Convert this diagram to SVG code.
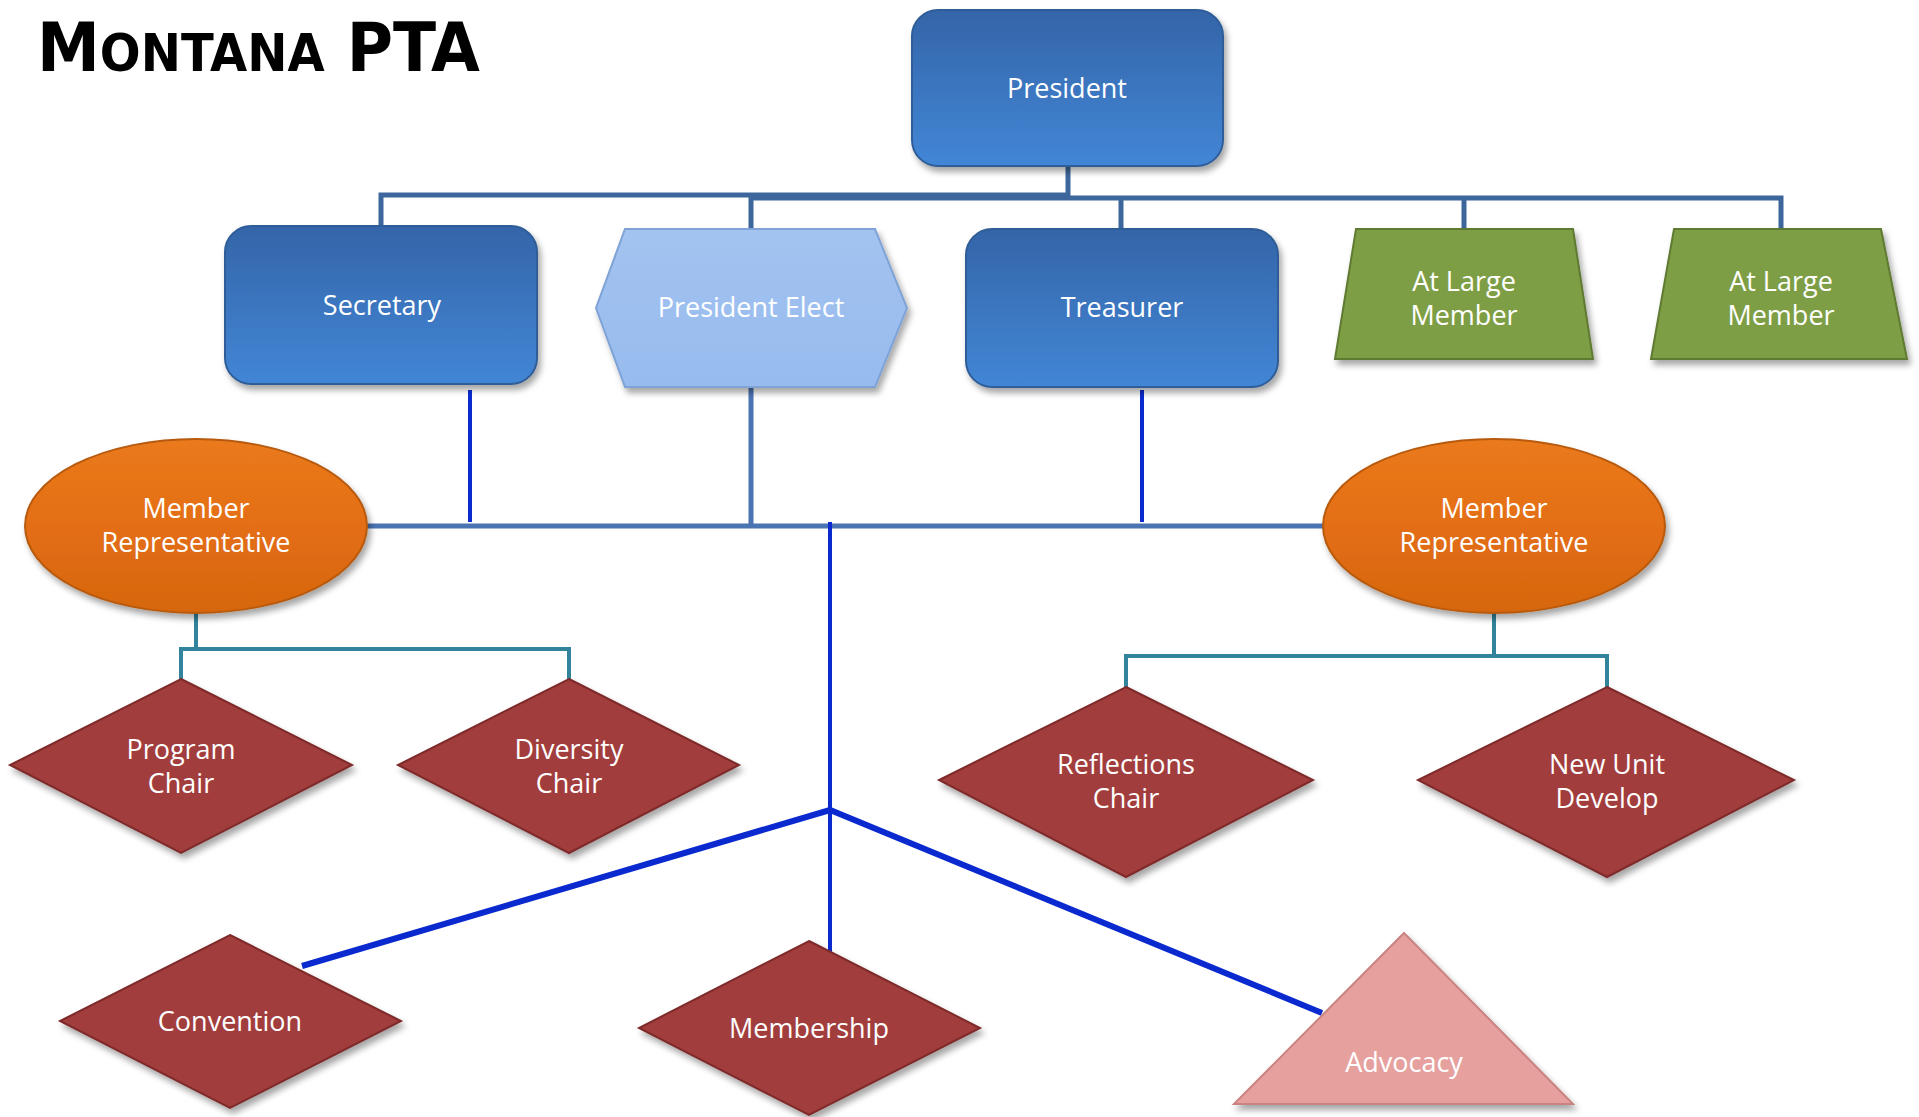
<svg xmlns="http://www.w3.org/2000/svg" width="1919" height="1117" viewBox="0 0 1919 1117">
<defs>
  <filter id="sh" x="-20%" y="-20%" width="140%" height="140%">
    <feDropShadow dx="3" dy="5" stdDeviation="3" flood-color="#000" flood-opacity="0.35"/>
  </filter>
  <linearGradient id="gBlue" x1="0" y1="0" x2="0" y2="1">
    <stop offset="0" stop-color="#3465A8"/>
    <stop offset="1" stop-color="#4286D6"/>
  </linearGradient>
  <linearGradient id="gLight" x1="0" y1="0" x2="0" y2="1">
    <stop offset="0" stop-color="#A3C3F0"/>
    <stop offset="1" stop-color="#97BBEE"/>
  </linearGradient>
  <linearGradient id="gOrange" x1="0" y1="0" x2="0" y2="1">
    <stop offset="0" stop-color="#EA7A1C"/>
    <stop offset="0.5" stop-color="#E46E13"/>
    <stop offset="1" stop-color="#D66610"/>
  </linearGradient>
</defs>
<style>
  .lbl { font-family: "Open Sans", "Liberation Sans", sans-serif; font-size: 27px; fill: #ffffff; text-anchor: middle; }
  .blue { fill: url(#gBlue); stroke: #2F5D97; stroke-width: 2; filter: url(#sh); }
  .light { fill: url(#gLight); stroke: #7FA3D6; stroke-width: 2; filter: url(#sh); }
  .green { fill: #7E9E45; stroke: #5F7A30; stroke-width: 2; filter: url(#sh); }
  .orange { fill: url(#gOrange); stroke: #B85A0E; stroke-width: 2; filter: url(#sh); }
  .red { fill: #A23D3C; stroke: #7E2B2B; stroke-width: 2; filter: url(#sh); }
  .pink { fill: #E6A19F; stroke: #C98381; stroke-width: 2; filter: url(#sh); }
  .c-steel { stroke: #3D679C; stroke-width: 5; fill: none; }
  .c-steel2 { stroke: #4A74B2; stroke-width: 5; fill: none; }
  .c-bright { stroke: #0A2ACF; stroke-width: 4; fill: none; }
  .c-brightw { stroke: #0A2ACF; stroke-width: 6; fill: none; }
  .c-teal { stroke: #31849B; stroke-width: 4; fill: none; }
  .title { font-family: "DejaVu Sans", "Liberation Sans", sans-serif; font-weight: bold; fill: #000; }
</style>
<rect width="1919" height="1117" fill="#ffffff"/>

<text class="title" x="37" y="71" textLength="443" lengthAdjust="spacingAndGlyphs"><tspan font-size="67">M</tspan><tspan font-size="51">ONTANA</tspan><tspan font-size="67"> PTA</tspan></text>

<g id="connectors">
  <polyline class="c-steel" points="1068,166 1068,195 381,195 381,228"/>
  <polyline class="c-steel" points="751,230 751,198 1781,198 1781,230"/>
  <line class="c-steel" x1="1121" y1="198" x2="1121" y2="230"/>
  <line class="c-steel" x1="1464" y1="198" x2="1464" y2="230"/>
  <line class="c-steel2" x1="360" y1="526" x2="1330" y2="526"/>
  <line class="c-steel2" x1="751" y1="387" x2="751" y2="526"/>
  <line class="c-bright" x1="470" y1="390" x2="470" y2="522"/>
  <line class="c-bright" x1="1142" y1="390" x2="1142" y2="522"/>
  <line class="c-bright" x1="830" y1="522" x2="830" y2="953"/>
  <polyline class="c-brightw" points="302,966 830,810 1322,1013"/>
  <polyline class="c-teal" points="196,612 196,649"/>
  <polyline class="c-teal" points="181,682 181,649 569,649 569,682"/>
  <polyline class="c-teal" points="1494,612 1494,656"/>
  <polyline class="c-teal" points="1126,690 1126,656 1607,656 1607,690"/>
</g>

<g id="president">
  <rect class="blue" x="912" y="10" width="311" height="156" rx="26"/>
  <text class="lbl" x="1067" y="98">President</text>
</g>
<g id="secretary">
  <rect class="blue" x="225" y="226" width="312" height="158" rx="26"/>
  <text class="lbl" x="382" y="315">Secretary</text>
</g>
<g id="president-elect">
  <polygon class="light" points="625,229 875,229 907,308 875,387 625,387 596,308"/>
  <text class="lbl" x="751" y="317">President Elect</text>
</g>
<g id="treasurer">
  <rect class="blue" x="966" y="229" width="312" height="158" rx="26"/>
  <text class="lbl" x="1122" y="317">Treasurer</text>
</g>
<g id="at-large-1">
  <polygon class="green" points="1356,229 1573,229 1593,359 1335,359"/>
  <text class="lbl" x="1464" y="291">At Large</text>
  <text class="lbl" x="1464" y="325">Member</text>
</g>
<g id="at-large-2">
  <polygon class="green" points="1674,229 1881,229 1907,359 1651,359"/>
  <text class="lbl" x="1781" y="291">At Large</text>
  <text class="lbl" x="1781" y="325">Member</text>
</g>
<g id="member-rep-left">
  <ellipse class="orange" cx="196" cy="526" rx="171" ry="87"/>
  <text class="lbl" x="196" y="518">Member</text>
  <text class="lbl" x="196" y="552">Representative</text>
</g>
<g id="member-rep-right">
  <ellipse class="orange" cx="1494" cy="526" rx="171" ry="87"/>
  <text class="lbl" x="1494" y="518">Member</text>
  <text class="lbl" x="1494" y="552">Representative</text>
</g>
<g id="program-chair">
  <polygon class="red" points="181,679 352,765 181,853 10,765"/>
  <text class="lbl" x="181" y="759">Program</text>
  <text class="lbl" x="181" y="793">Chair</text>
</g>
<g id="diversity-chair">
  <polygon class="red" points="569,679 739,765 569,853 398,765"/>
  <text class="lbl" x="569" y="759">Diversity</text>
  <text class="lbl" x="569" y="793">Chair</text>
</g>
<g id="reflections-chair">
  <polygon class="red" points="1126,687 1313,780 1126,877 939,780"/>
  <text class="lbl" x="1126" y="774">Reflections</text>
  <text class="lbl" x="1126" y="808">Chair</text>
</g>
<g id="new-unit-develop">
  <polygon class="red" points="1607,687 1794,780 1607,877 1418,780"/>
  <text class="lbl" x="1607" y="774">New Unit</text>
  <text class="lbl" x="1607" y="808">Develop</text>
</g>
<g id="convention">
  <polygon class="red" points="230,935 401,1021 230,1108 60,1021"/>
  <text class="lbl" x="230" y="1031">Convention</text>
</g>
<g id="membership">
  <polygon class="red" points="809,941 980,1028 809,1115 639,1028"/>
  <text class="lbl" x="809" y="1038">Membership</text>
</g>
<g id="advocacy">
  <polygon class="pink" points="1404,933 1573,1104 1234,1104"/>
  <text class="lbl" x="1404" y="1072">Advocacy</text>
</g>
</svg>
